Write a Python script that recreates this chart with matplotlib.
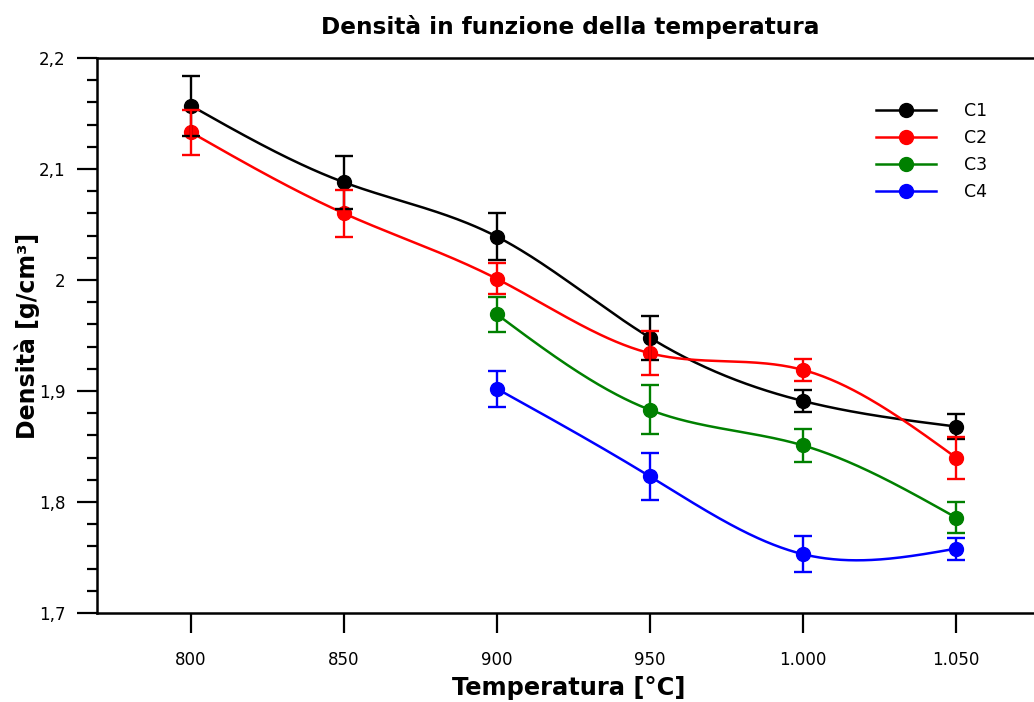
import numpy as np
import matplotlib
matplotlib.use("Agg")
import matplotlib.pyplot as plt
from matplotlib.ticker import FuncFormatter, MultipleLocator

plt.rcParams['font.family'] = ['DejaVu Sans']

temperature = [800, 850, 900, 950, 1000, 1050]

c1 = [2.157, 2.088, 2.039, 1.948, 1.891, 1.868]
c1_err = [0.027, 0.024, 0.021, 0.020, 0.010, 0.011]

c2 = [2.133, 2.060, 2.001, 1.934, 1.919, 1.840]
c2_err = [0.020, 0.021, 0.014, 0.020, 0.010, 0.019]

c3_temp = [900, 950, 1000, 1050]
c3 = [1.969, 1.883, 1.851, 1.786]
c3_err = [0.016, 0.022, 0.015, 0.014]

c4_temp = [900, 950, 1000, 1050]
c4 = [1.902, 1.823, 1.753, 1.758]
c4_err = [0.016, 0.021, 0.016, 0.010]

series = [
    ("C1", temperature, c1, c1_err, "black"),
    ("C2", temperature, c2, c2_err, "red"),
    ("C3", c3_temp, c3, c3_err, "green"),
    ("C4", c4_temp, c4, c4_err, "blue"),
]


def natural_spline(x, y, n=300):
    # natural cubic spline through the measured points, for the smooth line
    x = np.asarray(x, float)
    y = np.asarray(y, float)
    k = len(x)
    h = np.diff(x)
    A = np.zeros((k, k))
    b = np.zeros(k)
    A[0, 0] = 1
    A[-1, -1] = 1
    for i in range(1, k - 1):
        A[i, i - 1] = h[i - 1]
        A[i, i] = 2 * (h[i - 1] + h[i])
        A[i, i + 1] = h[i]
        b[i] = 6 * ((y[i + 1] - y[i]) / h[i] - (y[i] - y[i - 1]) / h[i - 1])
    m = np.linalg.solve(A, b)
    xs = np.linspace(x[0], x[-1], n)
    idx = np.clip(np.searchsorted(x, xs) - 1, 0, k - 2)
    x0, x1 = x[idx], x[idx + 1]
    hh = x1 - x0
    t0 = x1 - xs
    t1 = xs - x0
    ys = (m[idx] * t0 ** 3 / (6 * hh) + m[idx + 1] * t1 ** 3 / (6 * hh)
          + (y[idx] / hh - m[idx] * hh / 6) * t0
          + (y[idx + 1] / hh - m[idx + 1] * hh / 6) * t1)
    return xs, ys


W, H = 1034, 702
fig = plt.figure(figsize=(W / 100, H / 100), dpi=100)

# axes runs past the right edge of the figure
left_px, right_px, top_px, bottom_px = 97, 1100, 58, 613
ax = fig.add_axes([left_px / W, 1 - bottom_px / H,
                   (right_px - left_px) / W, (bottom_px - top_px) / H])

px_per_unit = 153 / 50
ax.set_xlim(800 - (191 - left_px) / px_per_unit, 800 + (right_px - 191) / px_per_unit)
ax.set_ylim(1.7, 2.2)

for name, xs, ys, err, col in series:
    sx, sy = natural_spline(xs, ys)
    ax.plot(sx, sy, color=col, lw=1.8, zorder=2)
    ax.plot(xs, ys, 'o', color=col, ms=10, zorder=3)
for name, xs, ys, err, col in series:
    ax.errorbar(xs, ys, yerr=err, fmt='none', ecolor=col, elinewidth=1.7,
                capsize=6.8, capthick=1.7, zorder=4)

handles = [plt.Line2D([], [], color=col, lw=1.8, marker='o', ms=10)
           for _, _, _, _, col in series]
ax.legend(handles, [s[0] for s in series], loc='upper left',
          bbox_to_anchor=(860 / W, 1 - 86 / H), bbox_transform=fig.transFigure,
          frameon=False, fontsize=12.5, handlelength=3.5, handletextpad=1.6,
          labelspacing=0.52, numpoints=1)

ax.spines['right'].set_visible(False)
for s in ['left', 'bottom', 'top']:
    ax.spines[s].set_linewidth(1.8)

ax.set_xticks(temperature)
ax.yaxis.set_major_locator(MultipleLocator(0.1))
ax.yaxis.set_minor_locator(MultipleLocator(0.02))
ax.tick_params(axis='both', which='major', direction='out', length=14.5,
               width=1.6, labelsize=12, pad=8)
ax.tick_params(axis='x', which='major', pad=13)
ax.tick_params(axis='y', which='minor', direction='out', length=7.5, width=1.6)


def fmt_y(v, pos):
    s = ('%.1f' % v).rstrip('0').rstrip('.')
    return s.replace('.', ',')


def fmt_x(v, pos):
    return '{:,}'.format(int(round(v))).replace(',', '.')


ax.yaxis.set_major_formatter(FuncFormatter(fmt_y))
ax.xaxis.set_major_formatter(FuncFormatter(fmt_x))

ax.set_xlabel("Temperatura [°C]", fontsize=17.4, fontweight='bold')
ax.set_ylabel("Densità [g/cm³]", fontsize=17, fontweight='bold')
ax.xaxis.set_label_coords((569 - left_px) / (right_px - left_px),
                          (bottom_px - 688) / (bottom_px - top_px))
ax.yaxis.set_label_coords((27 - left_px) / (right_px - left_px), 0.5)
ax.xaxis.label.set_va('center')
ax.yaxis.label.set_va('center')
fig.text(570 / W, 1 - 27 / H, "Densità in funzione della temperatura",
         ha='center', va='center', fontsize=16.7, fontweight='bold')

fig.savefig("out.png", dpi=100)
